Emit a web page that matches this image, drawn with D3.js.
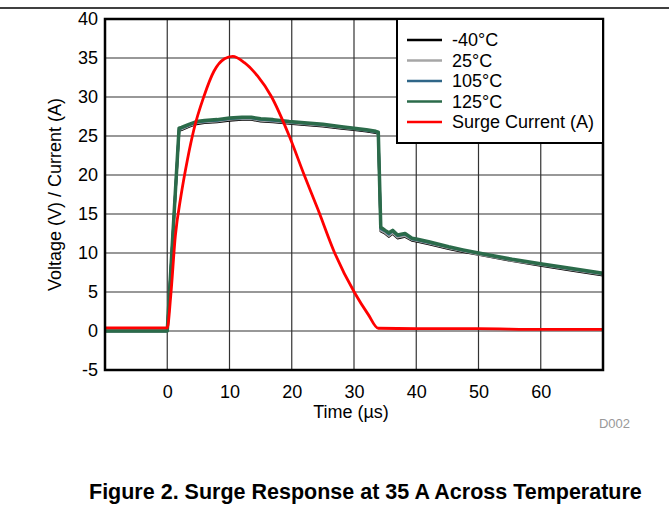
<!DOCTYPE html>
<html>
<head>
<meta charset="utf-8">
<script src="https://cdn.jsdelivr.net/npm/d3@7"></script>
<style>
  body { margin: 0; background: #fff; }
  svg { display: block; font-family: "Liberation Sans", Arial, sans-serif; }
</style>
</head>
<body>
<div id="chart"></div>
<script>
"use strict";

// time axis for the voltage traces (us)
const timeV = [-10, -0.1, 0, 1.9, 2.3, 3.5, 4.7, 6, 8, 10, 12, 13.5, 15, 17, 19.6, 22, 25, 28, 30, 32, 33.5, 33.9,
  34.3, 35, 35.6, 36.2, 37, 38.2, 39.3, 40, 42, 45.2, 47.5, 50, 55.4, 60.2, 65, 70];
const vM40 = [0, 0, 0, 25.7, 25.8, 26.2, 26.55, 26.7, 26.8, 27.0, 27.1, 27.1, 26.9, 26.8, 26.6, 26.45, 26.25, 25.95, 25.8, 25.6, 25.4, 25.3,
  12.8, 12.5, 12.1, 12.5, 11.9, 12.1, 11.6, 11.5, 11.15, 10.55, 10.15, 9.8, 9.0, 8.35, 7.75, 7.15];
const v25 = [0, 0, 0, 25.8, 25.9, 26.3, 26.65, 26.8, 26.9, 27.1, 27.2, 27.2, 27.0, 26.9, 26.7, 26.55, 26.35, 26.05, 25.9, 25.7, 25.5, 25.4,
  12.9, 12.6, 12.2, 12.6, 12.0, 12.2, 11.7, 11.6, 11.25, 10.65, 10.25, 9.85, 9.05, 8.45, 7.85, 7.25];
const v105 = [0, 0, 0, 25.9, 26.0, 26.4, 26.75, 26.9, 27.0, 27.2, 27.3, 27.3, 27.1, 27.0, 26.8, 26.65, 26.45, 26.15, 25.95, 25.75, 25.55, 25.45,
  13.1, 12.8, 12.4, 12.8, 12.2, 12.4, 11.8, 11.7, 11.35, 10.75, 10.35, 9.95, 9.15, 8.55, 7.95, 7.35];
const v125 = [0, 0, 0, 26.0, 26.1, 26.5, 26.85, 27.0, 27.1, 27.3, 27.4, 27.4, 27.2, 27.1, 26.85, 26.7, 26.5, 26.2, 26.0, 25.8, 25.6, 25.5,
  13.3, 12.9, 12.6, 12.9, 12.3, 12.5, 11.9, 11.8, 11.45, 10.8, 10.4, 10.0, 9.2, 8.6, 8.0, 7.4];

// surge current trace
const timeI = [-10, -5, -0.1, 0, 0.56, 1.3, 2.2, 3.25, 4.3, 5.9, 7.5, 9.2, 10.5, 12.4, 14.5, 16.7, 19.6, 22, 24.2, 26.9,
  30.1, 32.3, 33.9, 40, 50, 60, 70];
const iSurge = [0.4, 0.4, 0.4, 0.4, 4.5, 12.2, 17.3, 22, 25.9, 30.1, 33.3, 34.9, 35.2, 34.4, 32.7, 30.1, 25.0, 20, 15.6, 10,
  4.9, 2.1, 0.35, 0.3, 0.3, 0.2, 0.2];

const xTicks = [0, 10, 20, 30, 40, 50, 60];
const yTicks = [-5, 0, 5, 10, 15, 20, 25, 30, 35, 40];

const seriesNames = ["-40°C", "25°C", "105°C", "125°C", "Surge Current (A)"];
const seriesColors = ["#000000", "#a6a6a6", "#2f6688", "#2b6b4a", "#ff0000"];

const W = 669, H = 508;
const svg = d3.select("#chart").append("svg").attr("width", W).attr("height", H);

const x = d3.scaleLinear().domain([-10, 70]).range([105, 603]);
const y = d3.scaleLinear().domain([-5, 40]).range([370, 19]);

// page rule at top
svg.append("line").attr("x1", 0).attr("x2", W).attr("y1", 8).attr("y2", 8)
  .attr("stroke", "#000").attr("stroke-width", 1.5);

// grid
const grid = svg.append("g");
grid.selectAll(".gx").data(xTicks).join("line")
  .attr("x1", d => x(d)).attr("x2", d => x(d)).attr("y1", y(40)).attr("y2", y(-5))
  .attr("stroke", "#333").attr("stroke-width", 1.2);
grid.selectAll(".gy").data(yTicks).join("line")
  .attr("x1", x(-10)).attr("x2", x(70)).attr("y1", d => y(d)).attr("y2", d => y(d))
  .attr("stroke", "#333").attr("stroke-width", 1.2);

// axes (labels only)
const xAxis = svg.append("g").attr("transform", `translate(0,${y(-5)})`)
  .call(d3.axisBottom(x).tickValues(xTicks).tickFormat(d => String(d)).tickSize(0).tickPadding(15));
const yAxis = svg.append("g").attr("transform", `translate(${x(-10)},0)`)
  .call(d3.axisLeft(y).tickValues(yTicks).tickFormat(d => String(d)).tickSize(0).tickPadding(7));
[xAxis, yAxis].forEach(a => {
  a.select(".domain").remove();
  a.selectAll("text").attr("font-size", 18).attr("fill", "#000")
    .attr("font-family", "Liberation Sans, Arial, sans-serif");
});

// traces
const lineV = d3.line().x((d, i) => x(timeV[i])).y(d => y(d));
const lineI = d3.line().x((d, i) => x(timeI[i])).y(d => y(d)).curve(d3.curveMonotoneX);
const plot = svg.append("g");
[[vM40, 2.5], [v25, 2.5], [v105, 2.5], [v125, 3.5]].forEach((s, k) => {
  plot.append("path").attr("d", lineV(s[0])).attr("fill", "none")
    .attr("stroke", seriesColors[k]).attr("stroke-width", s[1]).attr("stroke-linejoin", "round");
});
plot.append("path").attr("d", lineI(iSurge)).attr("fill", "none")
  .attr("stroke", seriesColors[4]).attr("stroke-width", 2.8).attr("stroke-linejoin", "round");

// frame
svg.append("rect").attr("x", x(-10)).attr("y", y(40)).attr("width", x(70) - x(-10)).attr("height", y(-5) - y(40))
  .attr("fill", "none").attr("stroke", "#000").attr("stroke-width", 2.5);

// legend
const lg = svg.append("g");
lg.append("rect").attr("x", 397).attr("y", 19).attr("width", 206).attr("height", 124)
  .attr("fill", "#fff").attr("stroke", "#000").attr("stroke-width", 2);
seriesNames.forEach((n, i) => {
  const yy = 40 + i * 20.5;
  lg.append("line").attr("x1", 407).attr("x2", 442).attr("y1", yy).attr("y2", yy)
    .attr("stroke", seriesColors[i]).attr("stroke-width", 2.5);
  lg.append("text").attr("x", 452).attr("y", yy).attr("dy", "0.35em")
    .attr("font-size", 18).text(n);
});

// axis titles
svg.append("text").attr("x", 351).attr("y", 418).attr("text-anchor", "middle")
  .attr("font-size", 18).text("Time (µs)");
svg.append("text").attr("transform", `translate(61,${(y(40) + y(-5)) / 2}) rotate(-90)`)
  .attr("text-anchor", "middle").attr("font-size", 18).text("Voltage (V) / Current (A)");

svg.append("text").attr("x", 630).attr("y", 428).attr("text-anchor", "end")
  .attr("font-size", 13).attr("fill", "#999").text("D002");

svg.append("text").attr("x", 89).attr("y", 499).attr("font-size", 21.5).attr("font-weight", "bold")
  .text("Figure 2. Surge Response at 35 A Across Temperature");
</script>
</body>
</html>
